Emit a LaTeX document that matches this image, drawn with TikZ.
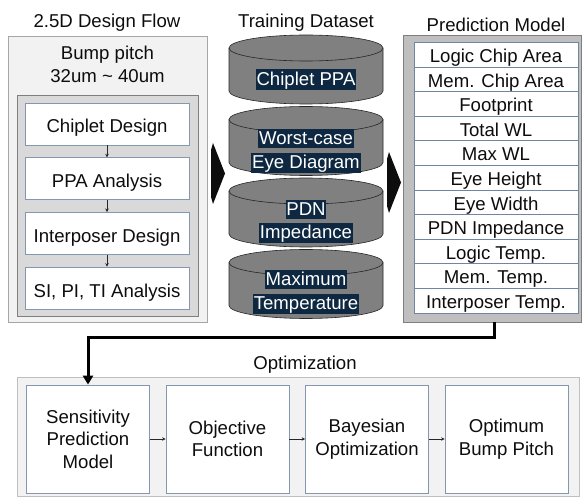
\documentclass[tikz,border=0pt]{standalone}
\usepackage{fontspec}
\setmainfont{Liberation Sans}
\usetikzlibrary{arrows.meta}
\definecolor{panelgray}{HTML}{F2F2F2}
\definecolor{panelline}{HTML}{A6A6A6}
\definecolor{innergray}{HTML}{D9D9D9}
\definecolor{darkline}{HTML}{7F7F7F}
\definecolor{boxline}{HTML}{8497B0}
\definecolor{rowline}{HTML}{6F86A3}
\definecolor{midgray}{HTML}{BFBFBF}
\definecolor{drumgray}{HTML}{808080}
\definecolor{navy}{HTML}{0E2841}
\newcommand{\hlite}[1]{{\setlength{\fboxsep}{0.8pt}\colorbox{navy}{\rule[-2.7pt]{0pt}{17.7pt}\textcolor{white}{#1}}}}

\begin{document}
\begin{tikzpicture}[x=1pt, y=-1pt,
    every node/.style={font=\fontsize{18.6}{22.5}\selectfont, text=black!95},
    panel/.style={draw=panelline, fill=panelgray, line width=0.75pt},
    stagebox/.style={draw=boxline, fill=white, line width=0.75pt, minimum width=164pt, minimum height=42pt, text height=18pt, text depth=0pt},
    rowbox/.style={draw=rowline, fill=white, line width=0.7pt, minimum width=164pt, minimum height=24.6pt, inner sep=0pt, text height=16.5pt, text depth=0.5pt},
    optbox/.style={draw=boxline, fill=white, line width=0.75pt, minimum width=123pt, minimum height=108pt, align=center},
    drum/.style={fill=drumgray, draw=black!85, line width=0.6pt},
    drumtext/.style={align=center, font=\fontsize{18.6}{23.5}\selectfont},
    smallarrow/.style={draw=black!85, line width=0.6pt, -{Stealth[length=3.5pt, width=3.5pt]}},
    blockarrow/.style={fill=black!95},
    mainflow/.style={draw=black, line width=3pt, -{Triangle[length=9pt, width=10pt]}}]
    \useasboundingbox (0,0) rectangle (582,497);

    \node[panel, minimum width=199pt, minimum height=286pt] (flow) at (107.5,179) {};
    \node[anchor=base] (flowtitle) at (107,28) {2.5D Design Flow};
    \node[align=center] (pitch) at (107.5,64.5) {Bump pitch\\32um \textasciitilde{} 40um};
    \node[draw=darkline, fill=innergray, line width=0.75pt, minimum width=181pt, minimum height=221pt] (flowinner) at (107.5,205.5) {};
    \foreach \txt [count=\i] in {Chiplet Design, PPA Analysis, Interposer Design, {SI, PI, TI Analysis}}
        \node[stagebox] (s\i) at (107,69.3+54.7*\i) {\txt};
    \foreach \i/\j in {1/2, 2/3, 3/4}
        \draw[smallarrow] (s\i) -- (s\j);

    \node[anchor=base] (datatitle) at (306,28) {Training Dataset};
    \foreach \top in {35, 106.5, 178, 249.5} {
        \filldraw[drum] (229,\top+13) -- (229,\top+56) arc[start angle=180, end angle=360, x radius=77pt, y radius=13pt] -- (383,\top+13);
        \filldraw[drum] (306,\top+13) ellipse [x radius=77pt, y radius=13pt];
    }
    \node[drumtext] (d1) at (306,79.5) {\hlite{Chiplet PPA}};
    \node[drumtext] (d2) at (306,151) {\hlite{Worst-case}\\\hlite{Eye Diagram}};
    \node[drumtext] (d3) at (306,221.5) {\hlite{PDN}\\\hlite{Impedance}};
    \node[drumtext] (d4) at (306,292) {\hlite{Maximum}\\\hlite{Temperature}};

    \fill[blockarrow] (211,150) -- (213,143) -- (225,173.5) -- (213,204) -- (211,197) -- cycle;
    \fill[blockarrow] (387,159) -- (389,152) -- (401,182.5) -- (389,213) -- (387,206) -- cycle;

    \node[draw=darkline, fill=midgray, line width=0.75pt, minimum width=178pt, minimum height=287pt] (model) at (492,178.5) {};
    \node[anchor=base] (modeltitle) at (496,32) {Prediction Model};
    \foreach \txt [count=\i] in {Logic Chip Area, Mem. Chip Area, Footprint, Total WL, Max WL, Eye Height, Eye Width, PDN Impedance, Logic Temp., Mem. Temp., Interposer Temp.}
        \node[rowbox] (m\i) at (496,30+24.6*\i) {\txt};

    \node[panel, draw=midgray, minimum width=562pt, minimum height=119pt] (optpanel) at (298,436.5) {};
    \node[anchor=base] (opttitle) at (305,370) {Optimization};
    \node[optbox] (o1) at (88,439) {Sensitivity\\Prediction\\Model};
    \node[optbox] (o2) at (227.5,439) {Objective\\Function};
    \node[optbox] (o3) at (367,439) {Bayesian\\Optimization};
    \node[optbox] (o4) at (506.5,439) {Optimum\\Bump Pitch};
    \foreach \i/\j in {1/2, 2/3, 3/4}
        \draw[smallarrow] (o\i) -- (o\j);

    \draw[mainflow] ([xshift=2.5pt]model.south) -- ++(0,15) -| (o1.north);
\end{tikzpicture}
\end{document}
